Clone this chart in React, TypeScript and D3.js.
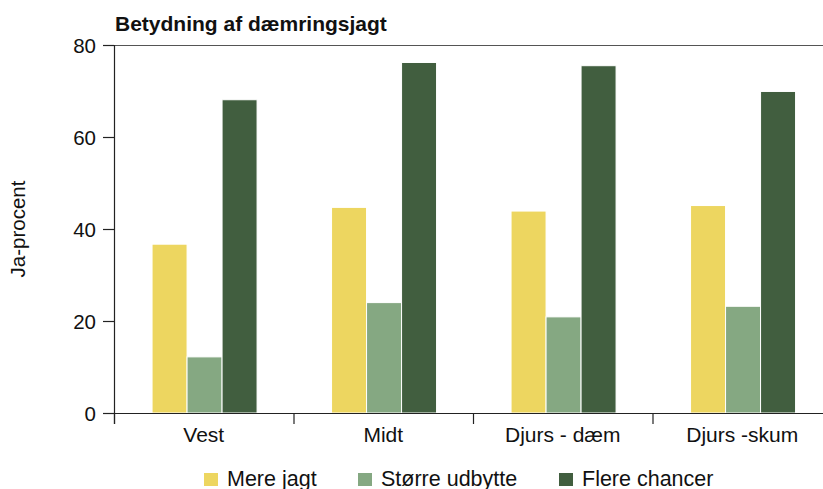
import React from "react";
import * as d3 from "d3";

const categories = ["Vest", "Midt", "Djurs - dæm", "Djurs -skum"];
const seriesNames = ["Mere jagt", "Større udbytte", "Flere chancer"];
const mereJagt = [36.7, 44.7, 43.9, 45.1];
const stoerreUdbytte = [12.2, 24.0, 20.9, 23.2];
const flereChancer = [68.1, 76.2, 75.5, 69.9];
const yTicks = [0, 20, 40, 60, 80];
const colors = ["#EDD660", "#85A882", "#415E3F"];

const W = 823;
const H = 489;
const left = 114;
const top = 45;
const bottom = 413;
const bandW = 179.5;

export default function App() {
  const seriesValues = [mereJagt, stoerreUdbytte, flereChancer];
  const y = d3.scaleLinear().domain([0, 80]).range([bottom, top]);
  const x0 = d3
    .scaleBand<string>()
    .domain(categories)
    .range([left, left + bandW * categories.length])
    .padding(0);
  const bw = x0.bandwidth();
  const x1 = d3
    .scaleBand<string>()
    .domain(seriesNames)
    .range([bw * 0.212, bw * 0.797])
    .padding(0);
  const font = "Liberation Sans, Arial, sans-serif";
  const boundaries = categories.map((c) => x0(c) as number);
  const legendX = [204, 358, 559];

  return (
    <svg
      width={W}
      height={H}
      style={{ position: "absolute", left: 0, top: 0, background: "#fff" }}
      fontFamily={font}
    >
      <rect width={W} height={H} fill="#fff" />
      <text x={115} y={31} fontSize={21} fontWeight="bold" fill="#111">
        Betydning af dæmringsjagt
      </text>
      {/* top border */}
      <line x1={left} x2={W} y1={top + 0.5} y2={top + 0.5} stroke="#555" strokeWidth={1} />
      {/* bars */}
      {categories.map((c, i) => (
        <g key={c} transform={`translate(${x0(c)},0)`}>
          {seriesNames.map((s, j) => {
            const v = seriesValues[j][i];
            return (
              <rect
                key={s}
                x={x1(s)}
                y={y(v)}
                width={x1.bandwidth()}
                height={bottom - y(v)}
                fill={colors[j]}
                stroke="#fff"
                strokeWidth={1}
              />
            );
          })}
        </g>
      ))}
      {/* y axis */}
      <line x1={left + 0.5} x2={left + 0.5} y1={top} y2={bottom + 11} stroke="#222" strokeWidth={1.2} />
      {yTicks.map((t) => (
        <g key={t}>
          <line x1={103} x2={left} y1={y(t) + 0.5} y2={y(t) + 0.5} stroke="#222" strokeWidth={1.2} />
          <text x={96} y={y(t) + 7.5} fontSize={20.5} textAnchor="end" fill="#111">
            {t}
          </text>
        </g>
      ))}
      {/* x axis */}
      <line x1={103} x2={W} y1={bottom + 0.5} y2={bottom + 0.5} stroke="#222" strokeWidth={1.2} />
      {boundaries.map((b, i) => (
        <line key={i} x1={b + 0.5} x2={b + 0.5} y1={bottom} y2={bottom + 11} stroke="#222" strokeWidth={1.2} />
      ))}
      {categories.map((c) => (
        <text
          key={c}
          x={(x0(c) as number) + bw / 2}
          y={441.5}
          fontSize={21}
          textAnchor="middle"
          fill="#111"
        >
          {c}
        </text>
      ))}
      <text
        transform={`translate(25,${(top + bottom) / 2}) rotate(-90)`}
        fontSize={20.5}
        textAnchor="middle"
        fill="#111"
      >
        Ja-procent
      </text>
      {/* legend */}
      {seriesNames.map((s, j) => (
        <g key={s}>
          <rect x={legendX[j]} y={473} width={14} height={13} fill={colors[j]} />
          <text x={legendX[j] + 23} y={485.5} fontSize={21.5} fill="#111">
            {s}
          </text>
        </g>
      ))}
    </svg>
  );
}
